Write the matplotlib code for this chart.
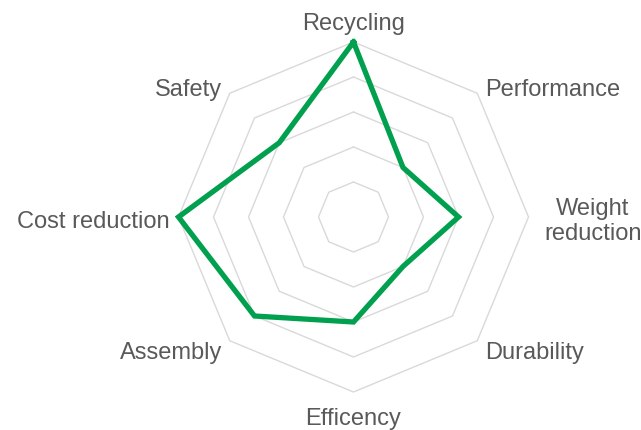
import numpy as np
from matplotlib import pyplot as plt
from matplotlib import transforms

# Kategorien im Uhrzeigersinn ab oben
kategorien = ["Recycling", "Performance", "Weight\nreduction", "Durability",
              "Efficency", "Assembly", "Cost reduction", "Safety"]
werte = [5, 2, 3, 2, 3, 4, 5, 3]
ringe = [1, 2, 3, 4, 5]

n = len(kategorien)
winkel = np.linspace(0, 2 * np.pi, n, endpoint=False)
winkel_zu = np.append(winkel, winkel[0])

fig = plt.figure(figsize=(6.41, 4.31), dpi=100)
plt.rcParams['font.family'] = ['Liberation Sans', 'DejaVu Sans']

# Mittelpunkt ca. (353.5, 218) px, Radius 175 px
cx, cy, r = 353.5 / 641, 1 - 218 / 431, 175
ax = fig.add_axes([cx - r / 641, cy - r / 431, 2 * r / 641, 2 * r / 431],
                  projection='polar')
ax.set_theta_offset(np.pi / 2)
ax.set_theta_direction(-1)
ax.set_ylim(0, 5)
ax.set_xticks([])
ax.set_yticks([])
ax.grid(False)
ax.spines['polar'].set_visible(False)
ax.patch.set_alpha(0)

# Achteckige Gitterlinien
for ring in ringe:
    ax.plot(winkel_zu, [ring] * (n + 1), color='#d9d9d9', lw=1.0, clip_on=False, zorder=1)

# Datenlinie
ax.plot(winkel_zu, werte + [werte[0]], color='#00a04f', lw=3.8,
        solid_joinstyle='miter', clip_on=False, zorder=3)

# Beschriftungen (etwas nach unten verschoben)
versatz = transforms.offset_copy(ax.transData, fig=fig, x=0, y=-3.5, units='dots')
positionen = [
    (5.65, 'center'),
    (5.3, 'left'),
    (6.84, 'center'),
    (5.3, 'left'),
    (5.65, 'center'),
    (5.3, 'right'),
    (5.24, 'right'),
    (5.3, 'right'),
]
for w, name, (rr, ha) in zip(winkel, kategorien, positionen):
    ax.text(w, rr, name, ha=ha, va='center', fontsize=17, color='#595959',
            multialignment='center', linespacing=1.15, transform=versatz)

fig.savefig('out.png', dpi=100)
